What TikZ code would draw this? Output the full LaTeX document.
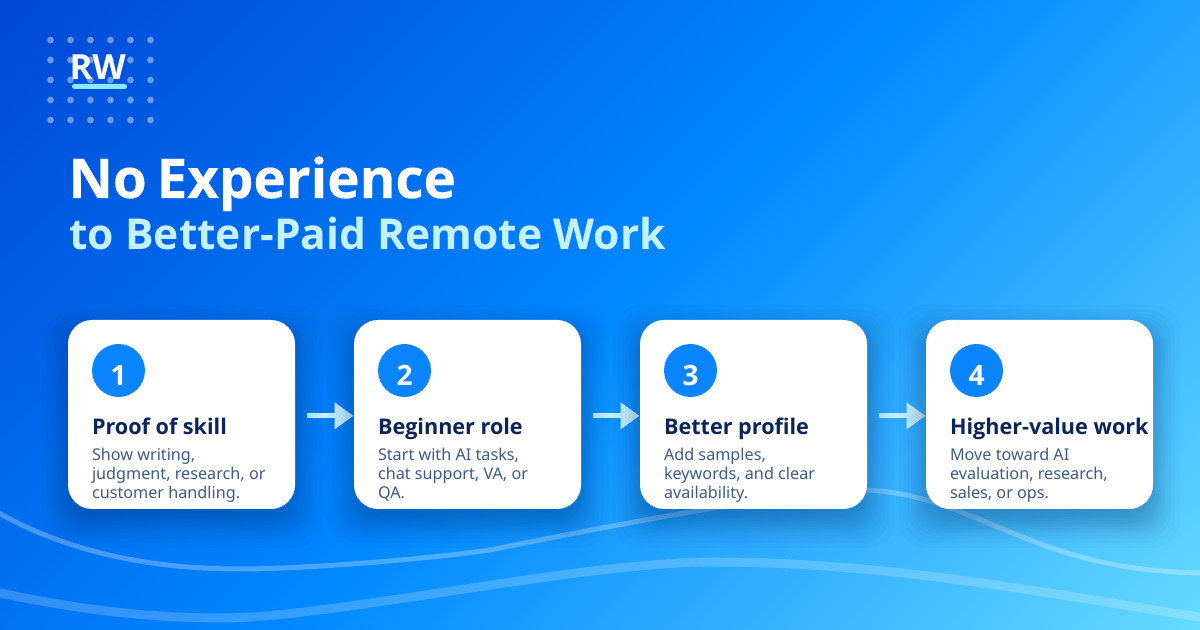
\documentclass[tikz,border=0pt]{standalone}
\usepackage{fontspec}
\setmainfont{Noto Sans}
\newfontfamily\headfont{Open Sans}[BoldFont={Open Sans Bold}]
\newfontfamily\titlefont{Open Sans Bold}[FakeBold=0.35,WordSpace=0.7]
\usetikzlibrary{arrows.meta,backgrounds}
\definecolor{bgdeep}{HTML}{0047D6}
\definecolor{bgmid}{HTML}{0088FF}
\definecolor{bglight}{HTML}{66D9FF}
\definecolor{ink}{HTML}{0B2559}
\definecolor{inksoft}{HTML}{3E5A8A}
\definecolor{badgeblue}{HTML}{0A84FF}
\definecolor{paleblue}{HTML}{C4F1FF}
\definecolor{accent}{HTML}{8CE8FF}
\definecolor{shadowblue}{HTML}{06245E}
\pgfdeclarehorizontalshading{pagegrad}{100bp}{color(0bp)=(bgdeep); color(14.64bp)=(bgdeep); color(50bp)=(bgmid); color(85.36bp)=(bglight); color(100bp)=(bglight)}
\tikzset{every picture/.style={line width=0.75pt}}
\tikzset{
  card/.style={fill=white,rounded corners=18pt,minimum width=170.25pt,minimum height=141.75pt,inner sep=0pt},
  cardglow/.style={fill=shadowblue,opacity=0.023,rounded corners=20pt},
  badge/.style={circle,fill=badgeblue,minimum size=39.75pt,inner sep=0pt,text height=23.2pt,text depth=0pt,text=white,font=\headfont\bfseries\fontsize{21}{24}\selectfont},
  headtext/.style={anchor=base west,inner sep=0pt,text=ink,font=\headfont\bfseries\fontsize{16.2}{20}\selectfont},
  bodytext/.style={anchor=north west,inner sep=0pt,text=inksoft,align=left,font=\fontsize{12.15}{14.25}\selectfont},
  nextarrow/.style={draw=paleblue,line width=3.75pt,-{Triangle[length=14.25pt,width=19.5pt]},shorten <=8.25pt},
  logodot/.style={fill=white,fill opacity=0.42},
  wave/.style={draw=white,line cap=round},
}
\begin{document}
\begin{tikzpicture}[x=0.75pt,y=0.75pt,yscale=-1,xscale=1]
	\useasboundingbox (0,0) rectangle (1200,630);
	%Logo dots
	\fill [logodot] (50.5,40) circle (3.4) (70.5,40) circle (3.4) (90.5,40) circle (3.4) (110.5,40) circle (3.4) (130.5,40) circle (3.4) (150.5,40) circle (3.4);
	\fill [logodot] (50.5,60) circle (3.4) (70.5,60) circle (3.4) (90.5,60) circle (3.4) (110.5,60) circle (3.4) (130.5,60) circle (3.4) (150.5,60) circle (3.4);
	\fill [logodot] (50.5,80) circle (3.4) (70.5,80) circle (3.4) (90.5,80) circle (3.4) (110.5,80) circle (3.4) (130.5,80) circle (3.4) (150.5,80) circle (3.4);
	\fill [logodot] (50.5,100) circle (3.4) (70.5,100) circle (3.4) (90.5,100) circle (3.4) (110.5,100) circle (3.4) (130.5,100) circle (3.4) (150.5,100) circle (3.4);
	\fill [logodot] (50.5,120) circle (3.4) (70.5,120) circle (3.4) (90.5,120) circle (3.4) (110.5,120) circle (3.4) (130.5,120) circle (3.4) (150.5,120) circle (3.4);
	%Logo text
	\node [anchor=base west,inner sep=0pt,text=white,font=\headfont\bfseries\fontsize{26}{30}\selectfont] (logotext) at (69,80) {RW};
	\fill [accent,rounded corners=1.8pt] (72,84) rectangle (127,89);
	%Title
	\node [anchor=base west,inner sep=0pt,text=white,font=\titlefont\fontsize{41}{48}\selectfont] (title) at (68,198) {No Experience};
	\node [anchor=base west,inner sep=0pt,text=paleblue,font=\headfont\bfseries\fontsize{31.9}{38}\selectfont] (subtitle) at (69,250) {to Better-Paid Remote Work};
	%Cards
	\node [card] (card1) at (181.5,414.5) {};
	\node [card] (card2) at (467.5,414.5) {};
	\node [card] (card3) at (753.5,414.5) {};
	\node [card] (card4) at (1039.5,414.5) {};
	%Badges
	\node [badge] (badge1) at (118.5,370.5) {1};
	\node [badge] (badge2) at (404.5,370.5) {2};
	\node [badge] (badge3) at (690.5,370.5) {3};
	\node [badge] (badge4) at (976.5,370.5) {4};
	% Text Node
	\node [headtext] (head1) at (91.5,435) {Proof of skill};
	\node [bodytext] (body1) at (91.5,448) {Show writing,\\judgment, research, or\\customer handling.};
	% Text Node
	\node [headtext] (head2) at (377.5,435) {Beginner role};
	\node [bodytext] (body2) at (377.5,448) {Start with AI tasks,\\chat support, VA, or\\QA.};
	% Text Node
	\node [headtext] (head3) at (663.5,435) {Better profile};
	\node [bodytext] (body3) at (663.5,448) {Add samples,\\keywords, and clear\\availability.};
	% Text Node
	\node [headtext] (head4) at (949.5,435) {Higher-value work};
	\node [bodytext] (body4) at (949.5,448) {Move toward AI\\evaluation, research,\\sales, or ops.};
	\begin{pgfonlayer}{background}
		%Background
		\fill [shading=pagegrad,shading angle=-45] (0,0) rectangle (1200,630);
		%Waves
		\draw [wave,line width=3.75pt,opacity=0.28] (-5,511) .. controls (60,548) and (140,569) .. (240,569) .. controls (300,569) and (420,560) .. (490,550) .. controls (570,534) and (760,495) .. (865,490) .. controls (980,495) and (1030,572) .. (1205,573);
		\draw [wave,line width=6.75pt,opacity=0.2] (-5,592) .. controls (80,610) and (150,618) .. (222,618) .. controls (330,618) and (580,562) .. (712,562) .. controls (880,562) and (1030,590) .. (1205,618);
		%Arrows
		\draw [nextarrow] ([yshift=1pt]card1.east) -- ([yshift=1pt]card2.west);
		\draw [nextarrow] ([yshift=1pt]card2.east) -- ([yshift=1pt]card3.west);
		\draw [nextarrow] ([yshift=1pt]card3.east) -- ([yshift=1pt]card4.west);
		%Card shadows
		\foreach \s in {-18,-14,-10,-7,-4,-2,0,2,4,6,8,10,12,15,18,22,27} {
			\fill [cardglow] (68-\s,332-\s) rectangle (295+\s,521+\s);
			\fill [cardglow] (354-\s,332-\s) rectangle (581+\s,521+\s);
			\fill [cardglow] (640-\s,332-\s) rectangle (867+\s,521+\s);
			\fill [cardglow] (926-\s,332-\s) rectangle (1153+\s,521+\s);
		}
	\end{pgfonlayer}
\end{tikzpicture}
\end{document}
